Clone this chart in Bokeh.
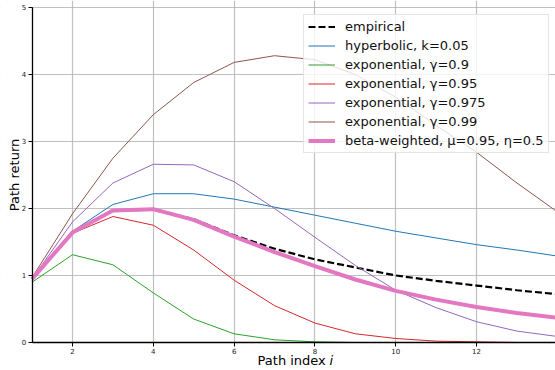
from bokeh.plotting import figure
from bokeh.models import Range1d, FixedTicker, Label, Legend, BoxAnnotation
from bokeh.embed import file_html
from bokeh.resources import INLINE
import math

x = list(range(1, 15))
empirical = [0.95, 1.65, 1.97, 1.98, 1.84, 1.60, 1.40, 1.24, 1.12, 1.00, 0.92, 0.85, 0.78, 0.72]
hyperbolic = [0.95, 1.66, 2.06, 2.22, 2.22, 2.14, 2.02, 1.90, 1.78, 1.66, 1.56, 1.46, 1.38, 1.29]
exp_090 = [0.90, 1.31, 1.16, 0.74, 0.35, 0.13, 0.04, 0.01, 0.0, 0.0, 0.0, 0.0, 0.0, 0.0]
exp_095 = [0.93, 1.63, 1.88, 1.75, 1.38, 0.93, 0.55, 0.29, 0.13, 0.06, 0.02, 0.01, 0.0, 0.0]
exp_0975 = [0.95, 1.80, 2.38, 2.66, 2.65, 2.40, 2.00, 1.57, 1.15, 0.78, 0.52, 0.31, 0.17, 0.09]
exp_099 = [0.97, 1.92, 2.75, 3.40, 3.88, 4.18, 4.28, 4.22, 4.00, 3.66, 3.24, 2.84, 2.38, 1.95]
beta_weighted = [0.95, 1.64, 1.97, 1.99, 1.83, 1.58, 1.35, 1.14, 0.94, 0.77, 0.64, 0.53, 0.44, 0.37]

x_ticks = [2, 4, 6, 8, 10, 12, 14]
y_ticks = [0, 1, 2, 3, 4, 5]

FONT = "DejaVu Sans"
X0, X1 = 0.218, 13.955
Y0, Y1 = -0.418, 5.104

p = figure(width=555, height=370, output_backend="svg", toolbar_location=None,
           x_range=Range1d(X0, X1), y_range=Range1d(Y0, Y1),
           min_border_left=0, min_border_right=0, min_border_top=0, min_border_bottom=0)
p.outline_line_color = None
p.background_fill_color = "white"
p.border_fill_color = "white"

p.xaxis.fixed_location = 0
p.yaxis.fixed_location = 1
p.xaxis.bounds = (1, X1)
p.yaxis.bounds = (0, 5)
for ax in (p.xaxis[0], p.yaxis[0]):
    ax.axis_line_color = "black"
    ax.axis_line_width = 1.3
    ax.major_tick_line_color = "black"
    ax.major_tick_line_width = 1
    ax.major_tick_out = 4
    ax.major_tick_in = 0
    ax.minor_tick_line_color = None
    ax.major_label_text_font = FONT
    ax.major_label_text_font_size = "7px"
    ax.major_label_text_color = "#222222"
    ax.major_label_standoff = 2
p.xaxis.ticker = FixedTicker(ticks=x_ticks)
p.yaxis.ticker = FixedTicker(ticks=y_ticks)

p.grid.grid_line_color = "#b0b0b0"
p.grid.grid_line_width = 1.2
p.grid.grid_line_alpha = 0.8
p.xgrid.ticker = FixedTicker(ticks=x_ticks)
p.ygrid.ticker = FixedTicker(ticks=y_ticks)

# white margins outside the data area (hide grid lines there)
p.add_layout(BoxAnnotation(top=0, fill_color="white", fill_alpha=1, line_color=None, level="underlay"))
p.add_layout(BoxAnnotation(right=1, fill_color="white", fill_alpha=1, line_color=None, level="underlay"))

r0 = p.line(x, empirical, line_color="black", line_width=2.2, line_dash="7 3")
r1 = p.line(x, hyperbolic, line_color="#1f77b4", line_width=1)
r2 = p.line(x, exp_090, line_color="#2ca02c", line_width=1)
r3 = p.line(x, exp_095, line_color="#d62728", line_width=1)
r4 = p.line(x, exp_0975, line_color="#9467bd", line_width=1)
r5 = p.line(x, exp_099, line_color="#8c564b", line_width=1)
r6 = p.line(x, beta_weighted, line_color="#e377c2", line_width=4)

legend = Legend(items=[
    ("empirical", [r0]),
    ("hyperbolic, k=0.05", [r1]),
    ("exponential, \u03b3=0.9", [r2]),
    ("exponential, \u03b3=0.95", [r3]),
    ("exponential, \u03b3=0.975", [r4]),
    ("exponential, \u03b3=0.99", [r5]),
    ("beta-weighted, \u03bc=0.95, \u03b7=0.5", [r6]),
], location=(303, 217))
legend.label_text_font = FONT
legend.label_text_font_size = "13px"
legend.label_text_color = "#111111"
legend.padding = 4
legend.margin = 0
legend.spacing = 4
legend.glyph_height = 15
legend.label_height = 15
legend.glyph_width = 27
legend.label_standoff = 10
legend.border_line_color = "#cccccc"
legend.border_line_width = 1
legend.background_fill_alpha = 0.8
p.add_layout(legend, "center")

ylab = Label(x=0.564, y=2.5, text="Path return",
             angle=math.pi / 2, text_align="center", text_baseline="middle",
             text_font=FONT, text_font_size="13px", text_color="black")
xlab1 = Label(x=8.27, y=-0.27, text="Path index",
              text_align="right", text_baseline="middle",
              text_font=FONT, text_font_size="13px", text_color="black")
xlab2 = Label(x=8.36, y=-0.27, text="i",
              text_align="left", text_baseline="middle", text_font_style="italic",
              text_font=FONT, text_font_size="13px", text_color="black")
for lab in (ylab, xlab1, xlab2):
    p.add_layout(lab)

open("out.html", "w").write(file_html(p, INLINE))
